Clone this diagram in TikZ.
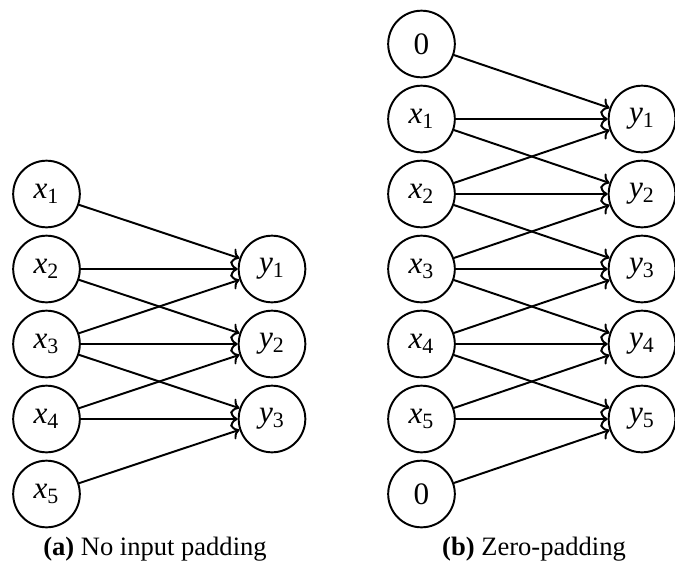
\documentclass[tikz,border=0pt]{standalone}
\usepackage{fontspec}
\setmainfont{Liberation Serif}
\usetikzlibrary{arrows.meta,positioning}

\newcommand{\xin}[1]{\textit{x}\textsubscript{#1}}
\newcommand{\yout}[1]{\textit{y}\textsubscript{#1}}

\begin{document}
\begin{tikzpicture}[x=0.018cm,y=-0.018cm,
   unit/.style={circle,draw,line width=1pt,minimum size=1.2cm,inner sep=0pt,
     font=\fontsize{16}{19}\selectfont},
   conn/.style={->,line width=1pt},
   capt/.style={font=\fontsize{13.6}{16}\selectfont}]
  \useasboundingbox (0,0) rectangle (675,570);
  % (a) no input padding
  \foreach \i in {1,...,5}
    \node[unit] (a\i) at (46.5,{119+75*\i}) {\xin{\i}};
  \foreach \j in {1,2,3}
    \node[unit] (ay\j) at (272,{194+75*\j}) {\yout{\j}};
  \foreach \j in {1,2,3}
    \foreach \d in {0,1,2}{
      \pgfmathtruncatemacro{\i}{\j+\d}
      \draw[conn] (a\i) -- (ay\j);
    }
  % (b) zero-padding
  \node[unit] (b0) at (421.5,44) {0};
  \foreach \i in {1,...,5}
    \node[unit] (b\i) at (421.5,{44+75*\i}) {\xin{\i}};
  \node[unit] (b6) at (421.5,494) {0};
  \foreach \j in {1,...,5}
    \node[unit] (by\j) at (642,{44+75*\j}) {\yout{\j}};
  \foreach \j in {1,...,5}
    \foreach \d in {-1,0,1}{
      \pgfmathtruncatemacro{\i}{\j+\d}
      \draw[conn] (b\i) -- (by\j);
    }
  % captions
  \node[capt] (capa) at (155,549) {\textbf{(a)} No input padding};
  \node[capt] (capb) at (534,549) {\textbf{(b)} Zero-padding};
\end{tikzpicture}
\end{document}
